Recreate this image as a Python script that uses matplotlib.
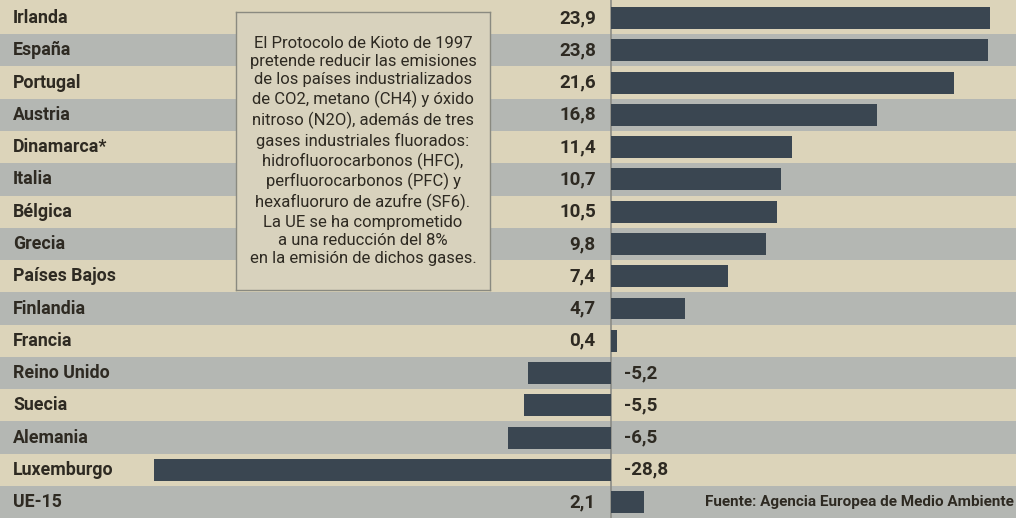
import matplotlib
matplotlib.use("Agg")
import matplotlib.pyplot as plt
import matplotlib.transforms as mtransforms

countries = ['Irlanda', 'España', 'Portugal', 'Austria', 'Dinamarca*', 'Italia',
             'Bélgica', 'Grecia', 'Países Bajos', 'Finlandia', 'Francia',
             'Reino Unido', 'Suecia', 'Alemania', 'Luxemburgo', 'UE-15']
values = [23.9, 23.8, 21.6, 16.8, 11.4, 10.7, 10.5, 9.8, 7.4, 4.7, 0.4,
          -5.2, -5.5, -6.5, -28.8, 2.1]

note = ("El Protocolo de Kioto de 1997\n"
        "pretende reducir las emisiones\n"
        "de los países industrializados\n"
        "de CO2, metano (CH4) y óxido\n"
        "nitroso (N2O), además de tres\n"
        "gases industriales fluorados:\n"
        "hidrofluorocarbonos (HFC),\n"
        "perfluorocarbonos (PFC) y\n"
        "hexafluoruro de azufre (SF6).\n"
        "La UE se ha comprometido\n"
        "a una reducción del 8%\n"
        "en la emisión de dichos gases.")
source = 'Fuente: Agencia Europea de Medio Ambiente'

BEIGE = '#dcd4ba'
STRIPE = '#b4b7b3'
BAR = '#3a4651'
INK = '#2e2a22'
FONT = ['Roboto', 'DejaVu Sans']

fig = plt.figure(figsize=(10.16, 5.18), dpi=100, facecolor=BEIGE)
ax = fig.add_axes([0, 0, 1, 1])
ax.set_facecolor(BEIGE)

n = len(countries)
ax.set_xlim(-38.52, 25.54)
ax.set_ylim(15.49, -0.558)

for i in range(n):
    if i % 2 == 1:
        ax.axhspan(i - 0.5, i + 0.5, color=STRIPE, lw=0, zorder=0)

ax.barh(range(n), values, height=0.68, color=BAR, zorder=2)
ax.axvline(0, color='#8c8c86', lw=1.2, zorder=1)

lbl = mtransforms.blended_transform_factory(ax.transAxes, ax.transData)
for i, (c, v) in enumerate(zip(countries, values)):
    ax.text(0.013, i, c, transform=lbl, ha='left', va='center',
            fontsize=12.8, fontweight='bold', color=INK, family=FONT)
    txt = f'{v:.1f}'.replace('.', ',')
    if v >= 0:
        ax.text(-0.95, i, txt, ha='right', va='center',
                fontsize=13.5, fontweight='bold', color=INK, family=FONT)
    else:
        ax.text(0.8, i, txt, ha='left', va='center',
                fontsize=13.5, fontweight='bold', color=INK, family=FONT)

# explanatory box
box_ax = fig.add_axes([236 / 1016, 1 - 290 / 518, 254 / 1016, 278 / 518])
box_ax.set_xlim(0, 1)
box_ax.set_ylim(0, 1)
box_ax.set_facecolor('#d8d2bd')
for s in box_ax.spines.values():
    s.set_color('#8a8a80')
    s.set_linewidth(1)
box_ax.set_xticks([])
box_ax.set_yticks([])
box_ax.text(0.5, 0.5, note, ha='center', va='center', fontsize=12,
            linespacing=1.27, color=INK, family=FONT)

ax.text(0.998, n - 1, source, transform=lbl, ha='right', va='center',
        fontsize=11, fontweight='bold', color=INK, family=FONT)

ax.axis('off')
fig.savefig('out.png', dpi=100, facecolor=BEIGE)
